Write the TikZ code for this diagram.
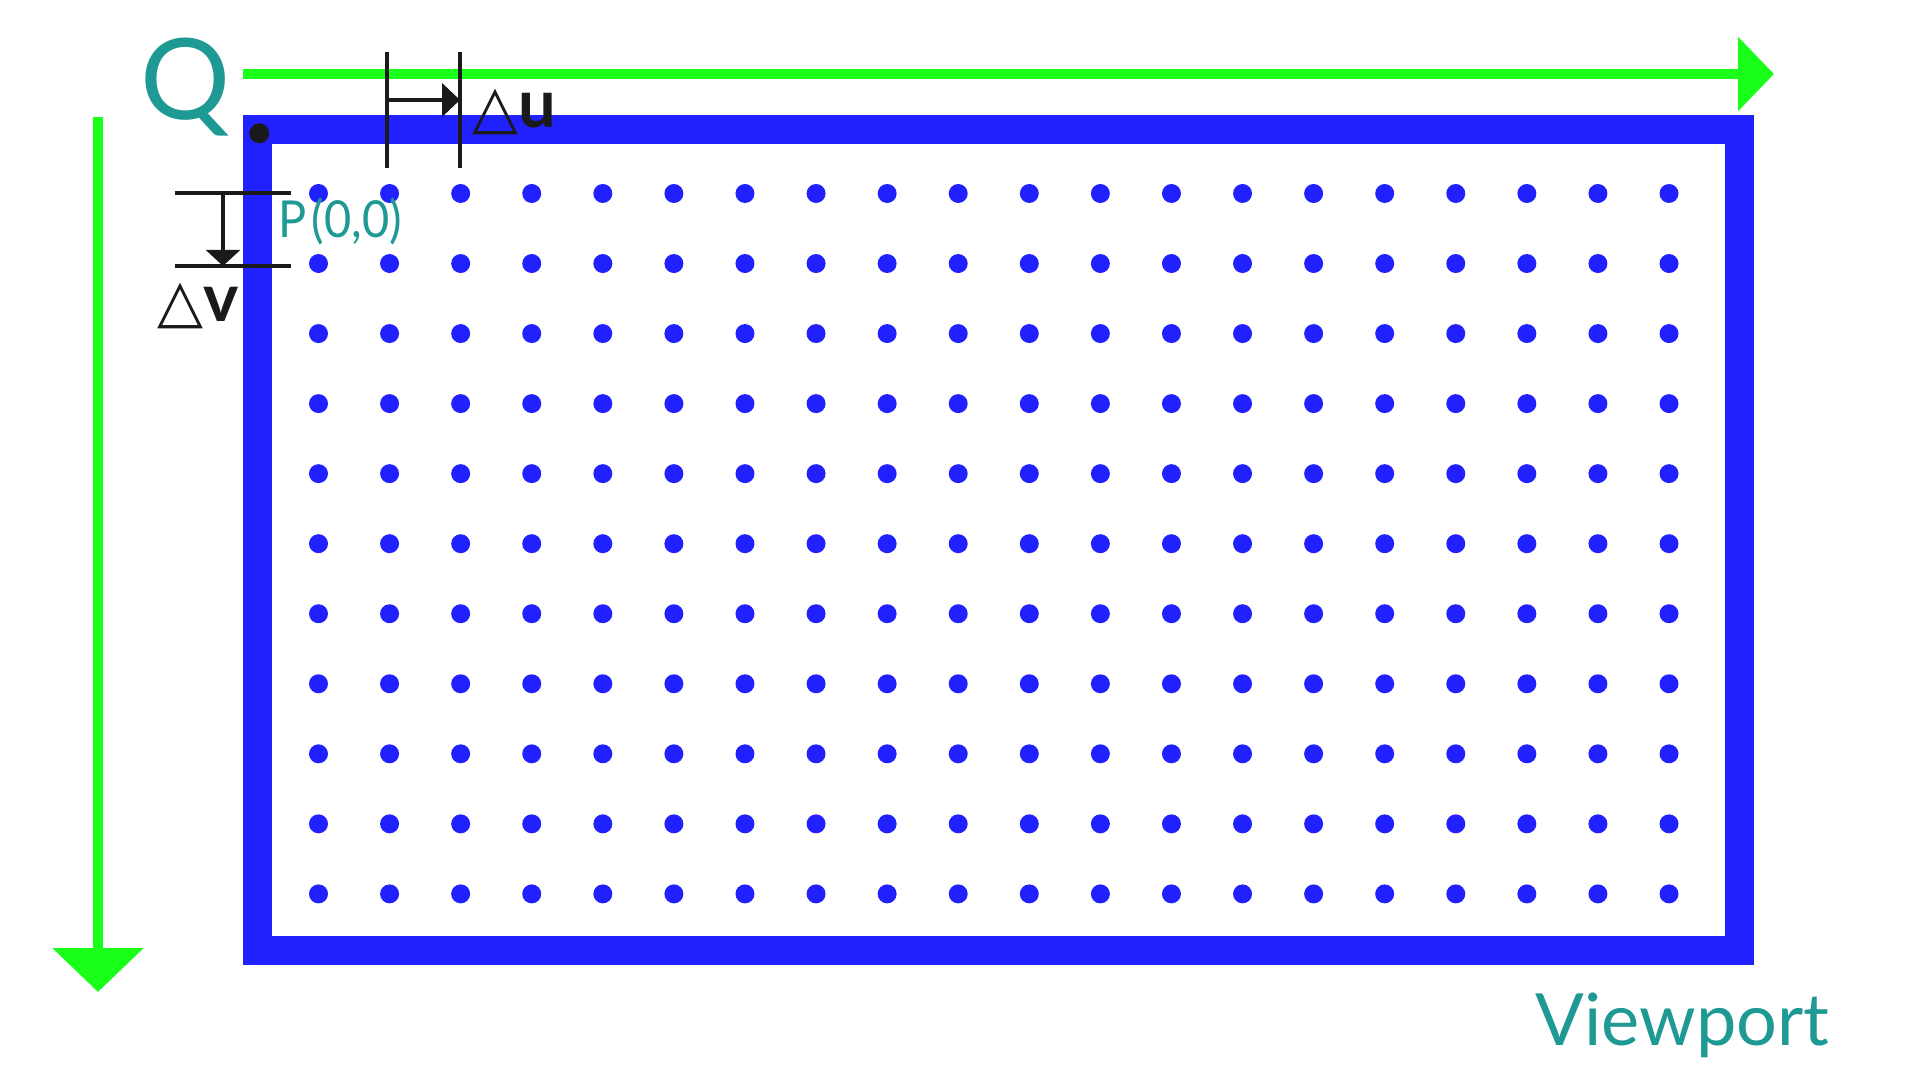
\documentclass[tikz,border=0pt]{standalone}
\usepackage{fontspec}
\setmainfont{Lato}
\newfontfamily\symfont{DejaVu Sans}
\usetikzlibrary{arrows.meta}
\definecolor{vblue}{RGB}{33,33,255}
\definecolor{vgreen}{RGB}{26,255,26}
\definecolor{vteal}{RGB}{31,153,148}
\definecolor{vblack}{RGB}{26,26,26}
\tikzset{
  frame/.style={draw=vblue, line width=8.25pt},
  axis/.style={draw=vgreen, line width=2.85pt},
  dimline/.style={draw=vblack, line width=1pt},
  gridpt/.style={fill=vblue},
  lbl/.style={inner sep=0pt, text=vteal},
}
\begin{document}
\begin{tikzpicture}[x=0.01cm,y=-0.01cm]
\useasboundingbox (0,0) rectangle (1920,1080);
% frame
\draw[frame] (257.5,129.5) rectangle (1739.5,951);
% grid of points
\foreach \i in {0,...,19}{
  \foreach \j in {0,...,10}{
    \fill[gridpt] ({318.5+71.08*\i},{193.5+70.04*\j}) circle (2.7pt);
  }
}
% axes
\coordinate (ustart) at (243,74);
\coordinate (uend) at (1774,74);
\coordinate (vstart) at (98,117);
\coordinate (vend) at (98,992);
\draw[axis, -{Triangle[length=10.2pt,width=20.5pt]}] (ustart) -- (uend);
\draw[axis, -{Triangle[length=12.5pt,width=25.3pt]}] (vstart) -- (vend);
% origin
\coordinate (origin) at (259.3,133.3);
\fill[vblack] (origin) circle (2.85pt);
% delta u
\coordinate (u1t) at (387,52); \coordinate (u1b) at (387,168);
\coordinate (u2t) at (460,52); \coordinate (u2b) at (460,168);
\coordinate (ua) at (387,100); \coordinate (ub) at (460,100);
\draw[dimline] (u1t) -- (u1b);
\draw[dimline] (u2t) -- (u2b);
\draw[dimline, -{Triangle[length=5.1pt,width=9.4pt]}] (ua) -- (ub);
% delta v
\coordinate (v1l) at (175,193); \coordinate (v1r) at (291,193);
\coordinate (v2l) at (175,266); \coordinate (v2r) at (291,266);
\coordinate (va) at (223,193); \coordinate (vb) at (223,266);
\draw[dimline] (v1l) -- (v1r);
\draw[dimline] (v2l) -- (v2r);
\draw[dimline, -{Triangle[length=4.6pt,width=9.7pt]}] (va) -- (vb);
% labels
\node[lbl, anchor=base] (Q) at (185.5,120) {\fontsize{32}{32}\selectfont Q};
\node[lbl, anchor=base west, xscale=0.92] (P) at (278,238) {\fontsize{14.5}{14.5}\selectfont P\kern1.5pt(0,0)};
\node[lbl, anchor=base west] (viewport) at (1535,1046) {\fontsize{20.5}{20.5}\selectfont Viewport};
\node[inner sep=0pt, anchor=base west, text=vblack] (du) at (472,128) {{\fontsize{17}{17}\selectfont\symfont △}{\fontsize{19}{19}\selectfont\bfseries u}};
\node[inner sep=0pt, anchor=base west, text=vblack] (dv) at (157,322) {{\fontsize{17}{17}\selectfont\symfont △}{\fontsize{19}{19}\selectfont\bfseries v}};
\end{tikzpicture}
\end{document}
